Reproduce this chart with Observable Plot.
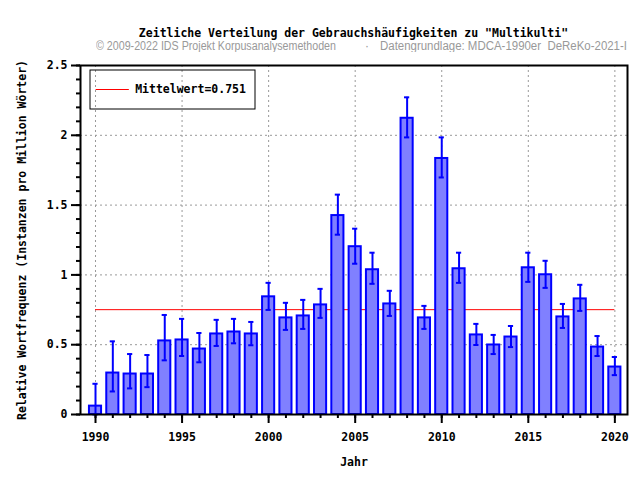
<!DOCTYPE html>
<html>
<head>
<meta charset="utf-8">
<script src="https://cdn.jsdelivr.net/npm/d3@7"></script>
<script src="https://cdn.jsdelivr.net/npm/@observablehq/plot@0.6"></script>
<style>
  body { margin: 0; background: #fff; }
  #wrap { width: 640px; height: 480px; position: relative; }
  #title { position: absolute; left: 0; top: 26px; width: 707px; text-align: center;
    font: bold 11.5px "DejaVu Sans Mono", monospace; color: #000; line-height: 14px; }
  #sub { position: absolute; top: 38px; left: 0; width: 640px; height: 16px; font: 12px "Liberation Sans", sans-serif;
    color: #999; line-height: 16px; white-space: nowrap; }
  #sub span { position: absolute; top: 0; display: inline-block; transform-origin: 0 50%; }
  #chart { position: absolute; left: 0; top: 52px; }
</style>
</head>
<body>
<div id="wrap">
  <div id="title">Zeitliche Verteilung der Gebrauchshäufigkeiten zu "Multikulti"</div>
  <div id="sub"><span id="sl">© 2009-2022 IDS Projekt Korpusanalysemethoden</span><span id="sd">·</span><span id="sr">Datengrundlage: MDCA-1990er_DeReKo-2021-I</span></div>
  <div id="chart"></div>
</div>
<script>
const years = [1990,1991,1992,1993,1994,1995,1996,1997,1998,1999,2000,2001,2002,2003,2004,2005,2006,2007,2008,2009,2010,2011,2012,2013,2014,2015,2016,2017,2018,2019,2020];
const values = [0.06,0.297,0.29,0.29,0.527,0.534,0.469,0.577,0.591,0.577,0.843,0.692,0.706,0.785,1.425,1.202,1.037,0.792,2.122,0.692,1.834,1.044,0.57,0.498,0.555,1.051,1.001,0.699,0.828,0.483,0.34];
const upper = [0.22,0.524,0.433,0.426,0.713,0.685,0.584,0.678,0.685,0.663,0.943,0.8,0.821,0.9,1.575,1.331,1.159,0.886,2.272,0.778,1.985,1.159,0.649,0.57,0.634,1.159,1.101,0.792,0.929,0.562,0.412];
const lower = [0.0,0.165,0.187,0.196,0.388,0.419,0.374,0.491,0.51,0.496,0.749,0.606,0.613,0.692,1.288,1.08,0.936,0.706,1.985,0.613,1.698,0.943,0.498,0.433,0.483,0.95,0.907,0.62,0.742,0.419,0.282];
const meanValue = 0.751;
const meanLabel = "Mittelwert=0.751";
const yTicks = [0, 0.5, 1, 1.5, 2, 2.5];
const yTickLabels = ["0", "0.5", "1", "1.5", "2", "2.5"];
const yMinor = d3.range(0, 26).map(i => i / 10);
const xTicks = [1990, 1995, 2000, 2005, 2010, 2015, 2020];
const xMinor = years;

// subtitle fitting (layout only)
function fit(id, left, width) {
  const el = document.getElementById(id);
  el.style.left = left + "px";
  if (width) { const w = el.getBoundingClientRect().width; el.style.transform = `scaleX(${width / w})`; }
}
fit("sl", 96, 240);
fit("sd", 365, 0);
fit("sr", 380, 247);

const data = years.map((year, i) => ({year, value: values[i], hi: upper[i], lo: lower[i]}));
const blue = "#0000ff";

const plot = Plot.plot({
  width: 640,
  height: 428,
  marginTop: 13,
  marginBottom: 66,
  marginLeft: 80,
  marginRight: 13,
  style: {fontFamily: "'DejaVu Sans Mono', monospace", fontSize: "11.5px", fontWeight: "bold", background: "#fff"},
  x: {domain: [1989.133, 2020.73]},
  y: {domain: [0, 2.5]},
  marks: [
    Plot.gridY(yTicks.slice(1, -1), {stroke: "#999", strokeOpacity: 1, strokeDasharray: "2,3"}),
    Plot.gridX(xTicks, {stroke: "#999", strokeOpacity: 1, strokeDasharray: "2,3"}),
    Plot.ruleY([meanValue], {x1: years[0], x2: years[years.length - 1], stroke: "#ff0000", strokeWidth: 1}),
    Plot.rectY(data, {x1: d => d.year - 0.35, x2: d => d.year + 0.35, y: "value", fill: "#8080ff", stroke: blue, strokeWidth: 2}),
    Plot.ruleX(data, {x: "year", y1: "lo", y2: "hi", stroke: blue, strokeWidth: 2}),
    Plot.ruleY(data, {y: "hi", x1: d => d.year - 0.15, x2: d => d.year + 0.15, stroke: blue, strokeWidth: 2}),
    Plot.ruleY(data, {y: "lo", x1: d => d.year - 0.15, x2: d => d.year + 0.15, stroke: blue, strokeWidth: 2}),
    Plot.axisY(yMinor, {tickSize: 4, strokeWidth: 2, text: null, label: null}),
    Plot.axisY(yTicks, {tickSize: 9, tickPadding: 4, strokeWidth: 2, tickFormat: d => yTickLabels[yTicks.indexOf(d)],
      label: "Relative Wortfrequenz (Instanzen pro Million Wörter)", labelAnchor: "center", labelArrow: "none", labelOffset: 63}),
    Plot.axisX(xMinor, {tickSize: 4, strokeWidth: 2, text: null, label: null}),
    Plot.axisX(xTicks, {tickSize: 9, tickPadding: 9, strokeWidth: 2, tickFormat: d => String(d),
      label: "Jahr", labelAnchor: "center", labelArrow: "none", labelOffset: 51}),
    Plot.frame({stroke: "#000", strokeWidth: 2})
  ]
});
document.getElementById("chart").appendChild(plot);

// legend box inside the plot frame
const legend = Plot.plot({
  width: 166, height: 40, margin: 0,
  style: {fontFamily: "'DejaVu Sans Mono', monospace", fontSize: "11.5px", fontWeight: "bold", background: "transparent", overflow: "visible"},
  x: {axis: null, domain: [0, 1]}, y: {axis: null, domain: [0, 1]},
  marks: [
    Plot.frame({stroke: "#000", strokeWidth: 1, inset: 0.5}),
    Plot.ruleY([0.5], {x1: 0.04, x2: 0.24, stroke: "#ff0000", strokeWidth: 1}),
    Plot.text([meanLabel], {x: 0.275, y: 0.5, textAnchor: "start", fill: "#000"})
  ]
});
legend.style.position = "absolute";
legend.style.left = "89px";
legend.style.top = "69px";
document.getElementById("wrap").appendChild(legend);
</script>
</body>
</html>
